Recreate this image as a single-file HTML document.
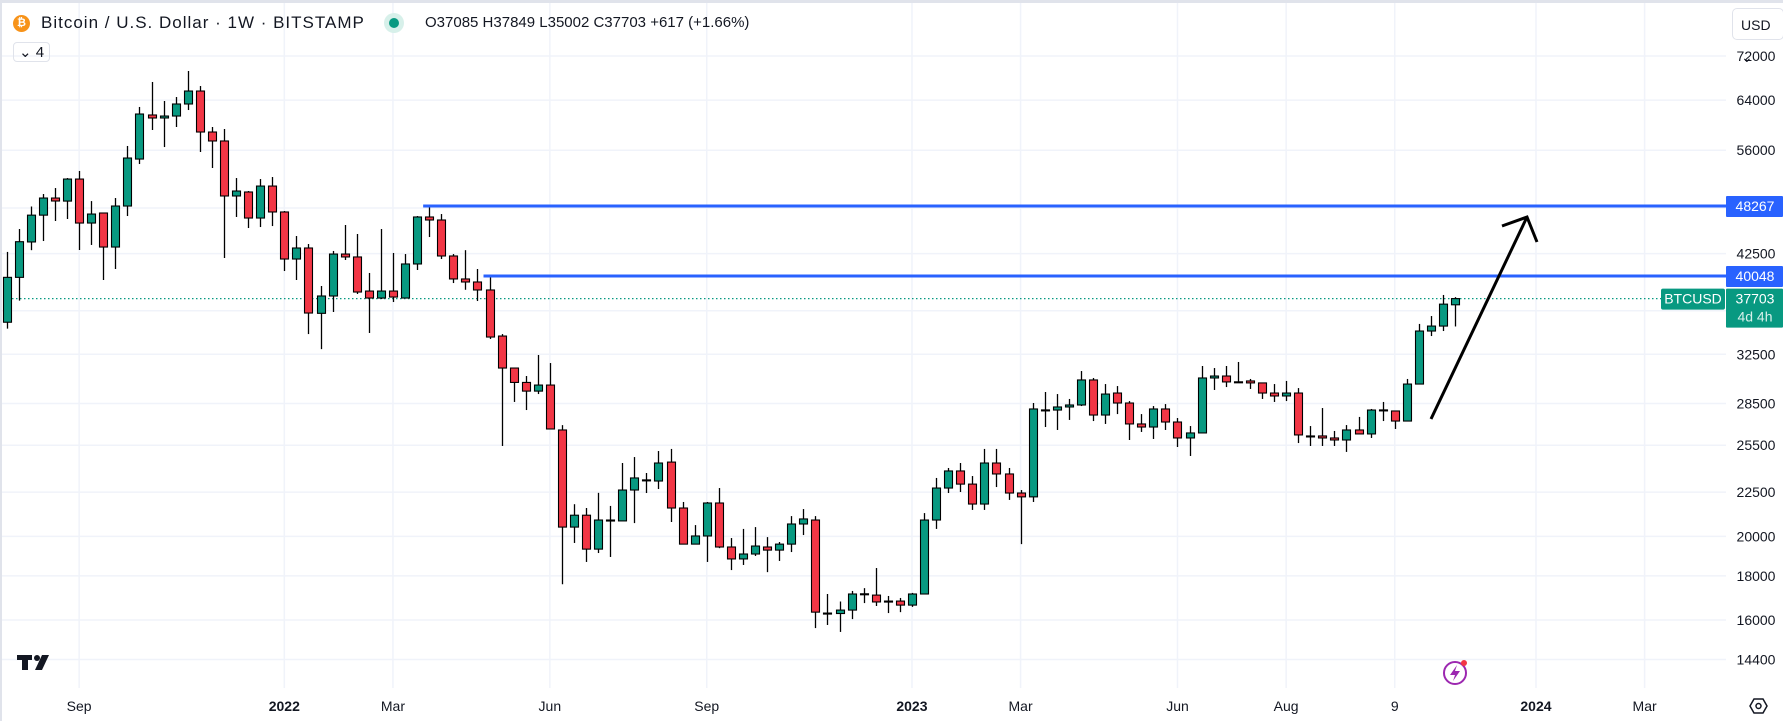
<!DOCTYPE html>
<html><head><meta charset="utf-8">
<style>
html,body{margin:0;padding:0;background:#fff;}
body{width:1783px;height:721px;overflow:hidden;position:relative;font-family:"Liberation Sans",sans-serif;color:#131722;}
#topbar{position:absolute;left:0;top:0;width:1783px;height:3px;background:#e0e3eb;}
#leftbar{position:absolute;left:0;top:0;width:2px;height:721px;background:#e0e3eb;}
#title{position:absolute;left:41px;top:13px;font-size:17px;letter-spacing:1px;white-space:nowrap;}
#ohlc{position:absolute;left:425px;top:14px;font-size:15px;white-space:nowrap;}
#btcicon{position:absolute;left:13px;top:15px;width:17px;height:17px;border-radius:50%;background:#f7931a;color:#fff;font-size:11px;font-weight:bold;text-align:center;line-height:17px;}
#status{position:absolute;left:384px;top:13px;width:20px;height:20px;border-radius:50%;background:#d7f0ea;}
#status div{position:absolute;left:5px;top:5px;width:10px;height:10px;border-radius:50%;background:#089981;}
#collapse{position:absolute;left:13px;top:42px;width:37px;height:20px;border:1px solid #e0e3eb;border-radius:4px;font-size:15px;line-height:19px;text-align:center;box-sizing:border-box;}
#usd{position:absolute;left:1732px;top:8px;width:52px;height:32px;border:1px solid #e0e3eb;border-radius:5px;font-size:14px;line-height:32px;padding-left:8px;box-sizing:border-box;}
svg{position:absolute;left:0;top:0;}
</style></head><body>
<svg id="chart" width="1783" height="721"></svg>
<div id="topbar"></div>
<div id="leftbar"></div>
<div id="btcicon">₿</div>
<div id="title">Bitcoin / U.S. Dollar · 1W · BITSTAMP</div>
<div id="status"><div></div></div>
<div id="ohlc">O37085 H37849 L35002 C37703 +617 (+1.66%)</div>
<div id="collapse">⌄ 4</div>
<div id="usd">USD ⌄</div>
<script>
const opens=[35400,39900,43850,47100,49300,48900,51860,46120,47370,43260,48260,54700,61520,61030,61350,63350,65580,58790,57400,49570,50100,46740,50900,47500,41900,43150,36250,37965,42460,42130,38470,37760,38470,37760,41350,46870,46495,42240,39730,39410,38580,34120,31330,30150,29460,29940,26560,20500,21160,19330,20840,20840,22630,23240,23180,24380,21570,19590,20020,21860,19440,18830,19080,19440,19280,19590,20670,20890,16300,16280,16430,17130,17100,16830,16830,16650,17150,20890,22750,23810,22990,21800,24320,23620,22450,22220,27990,28010,28240,28390,30350,27640,29310,28540,26990,26770,28090,27130,26000,26350,30510,30670,30200,30270,30110,29310,29080,29310,26130,26140,26000,25860,26560,26280,27990,27940,27200,30020,34580,35040,37085];
const highs=[42700,45390,48200,49830,50630,52000,52990,48900,47370,49300,56640,62850,67180,63860,64540,69180,66460,59580,59260,52000,50230,51860,52140,47620,44550,43610,38990,42810,45880,44790,40370,45390,42580,42460,46990,48267,47240,42460,42900,40800,40048,34300,31330,30670,32440,31750,26910,21790,21570,22460,21690,24320,24710,23680,25110,25250,21920,20610,21920,22750,19910,20400,20500,19960,19700,21110,21510,21110,17150,16810,17290,17420,18380,17060,16970,17200,21280,23370,24000,24320,23490,25250,25250,24000,22630,28540,29390,29230,28850,31080,30510,30020,29860,28690,27710,28310,28460,27420,26840,31500,31330,31500,31840,30430,30110,30020,30270,29700,26840,28160,26490,26910,27500,28090,28620,27940,30430,35240,35990,38070,37849];
const lows=[34800,37500,42900,43960,46370,46620,42920,43500,39620,40800,46990,53980,59106,56480,59580,62340,55740,53410,42010,46870,45510,45630,45750,40580,39620,34300,32950,36380,41790,38170,34400,37660,37360,37760,40690,44430,41900,39300,38600,37460,33850,25450,28620,28010,29230,26630,17600,19650,18680,19130,18930,20840,20720,22450,22690,20780,19590,19590,18680,19380,18280,18530,18980,18180,18730,19180,20070,15660,15790,15500,16040,16740,16610,16300,16340,16570,17200,20400,22450,22510,21460,21460,22810,22040,19590,21920,26770,26560,27280,28310,27200,26990,27710,25860,26420,25930,26560,25380,24780,26350,29550,29780,30110,29630,28850,28620,28690,25650,25450,25450,25450,25050,26280,26000,27200,26630,27200,30020,34120,34580,35002];
const closes=[39900,43880,47100,49300,48910,51860,46120,47240,43260,48260,54850,61680,61030,61350,63350,65580,58790,57400,49570,50230,46740,50900,47500,41900,43150,36280,37965,42460,42130,38370,37760,38470,37860,41350,46870,46495,42240,39730,39410,38580,34030,31330,30150,29460,29940,26630,20500,21160,19330,20890,20890,22630,23370,23250,24320,21570,19590,20020,21860,19440,18830,19080,19490,19280,19590,20670,20950,16340,16280,16430,17150,17160,16790,16800,16650,17150,20890,22750,23810,22990,21800,24320,23620,22450,22220,28090,28020,28240,28390,30350,27640,29230,28540,26990,26770,28090,27130,26000,26350,30510,30670,30190,30180,30110,29310,29080,29310,26210,26140,26000,25860,26560,26280,28010,28020,27200,30020,34580,35040,37150,37703];
const priceTicks=[72000,64000,56000,42500,32500,28500,25500,22500,20000,18000,16000,14400];
const hiddenGridTicks=[48000,36500];
const levels=[48267,40048];
const levelStart=[35,40];
const lastPrice=37703;
const timeLabels=["Sep","2022","Mar","Jun","Sep","2023","Mar","Jun","Aug","9","2024","Mar"];
const timeIdx=[6,23,32,45,58,75,84,97,106,115,126.7,135.7];
const boldLabels=["2022","2023","2024"];

const NS="http://www.w3.org/2000/svg";
const svg=document.getElementById('chart');
const PLOT_R=1726, PLOT_B=688;
function y(v){return 56+375*Math.log(72000/v);}
function x(i){return 6.7+i*12.07;}
function mk(tag,attrs,parent){const e=document.createElementNS(NS,tag);for(const k in attrs)e.setAttribute(k,attrs[k]);(parent||svg).appendChild(e);return e;}

const grid=mk('g',{});


priceTicks.concat(hiddenGridTicks).forEach(v=>{
  const l=mk('line',{x1:0,x2:PLOT_R,y1:y(v),y2:y(v),stroke:'#f0f3fa','stroke-width':1.5},grid);
  
  
});
timeIdx.forEach(t=>{
  const l=mk('line',{x1:x(t),x2:x(t),y1:3,y2:PLOT_B,stroke:'#f0f3fa','stroke-width':1.5},grid);
  
  
});

const cl=mk('line',{x1:0,x2:1661,y1:y(lastPrice),y2:y(lastPrice),stroke:'#089981','stroke-width':1.2,'stroke-dasharray':'1.5 2.5'});



const cg=mk('g',{});


for(let i=0;i<opens.length;i++){
  const o=opens[i],h=highs[i],lo=lows[i],c=closes[i];
  const up=c>=o;
  const g=mk('g',{},cg);
  
  
  const cx=Math.round(x(i))+0.5;
  mk('line',{x1:cx,x2:cx,y1:y(h),y2:y(lo),stroke:'#000','stroke-width':1.3},g);
  const top=y(Math.max(o,c)),bot=y(Math.min(o,c));
  mk('rect',{x:cx-4,y:top,width:8,height:Math.max(bot-top,1),fill:up?'#089981':'#f23645',stroke:'#000','stroke-width':1.1},g);
}

levels.forEach((v,k)=>{
  const l=mk('line',{x1:x(levelStart[k])-6,x2:PLOT_R,y1:y(v),y2:y(v),stroke:'#2962ff','stroke-width':3});
  
  
});

const ar=mk('g',{fill:'none',stroke:'#000','stroke-width':3,'stroke-linecap':'butt'});


mk('line',{x1:1431,y1:419,x2:1527,y2:217},ar);
mk('polyline',{points:'1502,226 1527,217 1537,242'},ar);

const ax=mk('g',{'font-family':'Liberation Sans, sans-serif','font-size':14,fill:'#131722','text-anchor':'middle'});


priceTicks.forEach(v=>{
  const t=mk('text',{x:1756,y:y(v)+5},ax);
  t.textContent=v;
  
  
});
levels.forEach(v=>{
  const b=mk('rect',{x:1726,y:y(v)-10,width:57,height:21,fill:'#2962ff',rx:1},ax);
  
  
  const t=mk('text',{x:1755,y:y(v)+5,fill:'#fff'},ax);
  t.textContent=v;
  
  
});
const lpY=y(lastPrice);
const sb=mk('rect',{x:1661,y:lpY-10,width:64,height:21,fill:'#089981',rx:2},ax);


const st=mk('text',{x:1693,y:lpY+5,fill:'#fff'},ax);
st.textContent='BTCUSD';


const pb=mk('rect',{x:1726,y:lpY-10,width:57,height:39,fill:'#089981',rx:1},ax);


const pt=mk('text',{x:1755,y:lpY+5,fill:'#fff'},ax);
pt.textContent=lastPrice;


const ct=mk('text',{x:1755,y:lpY+23,fill:'#d6f0ea'},ax);
ct.textContent='4d 4h';



const tx=mk('g',{'font-family':'Liberation Sans, sans-serif','font-size':14,fill:'#131722','text-anchor':'middle'});


timeLabels.forEach((s,k)=>{
  const t=mk('text',{x:x(timeIdx[k]),y:711},tx);
  if(boldLabels.includes(s))t.setAttribute('font-weight','bold');
  t.textContent=s;
  
  
});

const gs=mk('g',{fill:'none',stroke:'#131722','stroke-width':1.5});


mk('polygon',{points:'1750,706 1754,699 1763,699 1767,706 1763,713 1754,713'},gs);
mk('circle',{cx:1758.5,cy:706,r:2.5},gs);

const li=mk('g',{});


mk('circle',{cx:1455,cy:673,r:11,fill:'none',stroke:'#9c27b0','stroke-width':2},li);
mk('polygon',{points:'1457,665 1450,675 1455,675 1453,681 1460,671 1455,671',fill:'#9c27b0'},li);
mk('circle',{cx:1464,cy:663,r:3,fill:'#f23645'},li);

const lg=mk('g',{fill:'#131722'});


mk('rect',{x:17,y:655,width:15,height:5},lg);
mk('rect',{x:22,y:655,width:6,height:15},lg);
mk('circle',{cx:37,cy:658,r:3},lg);
mk('polygon',{points:'42,655 49,655 42,670 35,670'},lg);
</script>
</body></html>
